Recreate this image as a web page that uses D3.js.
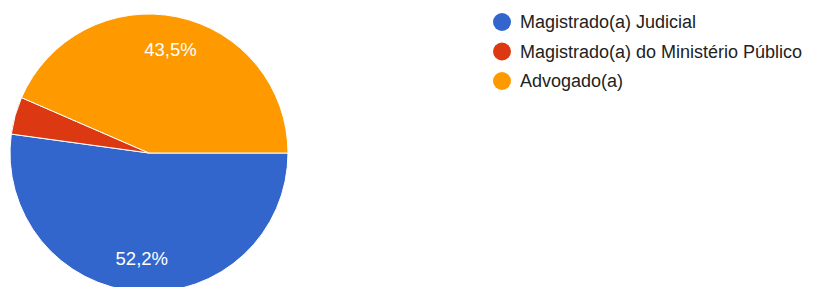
<!DOCTYPE html>
<html>
<head>
<meta charset="utf-8">
<script src="https://cdn.jsdelivr.net/npm/d3@7"></script>
<style>
  body { margin: 0; background: #fff; }
  svg { font-family: Arial, "Liberation Sans", sans-serif; }
</style>
</head>
<body>
<div id="chart"></div>
<script>
// data
var categories = ["Magistrado(a) Judicial", "Magistrado(a) do Ministério Público", "Advogado(a)"]
var counts = [12, 1, 10]
var labels = ["52,2%", "", "43,5%"]
var colors = ["#3366cc", "#dc3912", "#ff9900"]

var width = 814, height = 287
var cx = 149, cy = 153, radius = 139

var svg = d3.select("#chart").append("svg")
  .attr("width", width)
  .attr("height", height)

var g = svg.append("g")
  .attr("transform", "translate(" + cx + "," + cy + ")")

// pie starts at 3 o'clock, clockwise
var pie = d3.pie()
  .sort(null)
  .startAngle(Math.PI / 2)
  .endAngle(Math.PI / 2 + 2 * Math.PI)
  .value(function(d) { return d })

var arcGen = d3.arc().innerRadius(0).outerRadius(radius)
var labelArc = d3.arc().innerRadius(radius * 0.76).outerRadius(radius * 0.76)

var slices = pie(counts)

g.selectAll("path.slice")
  .data(slices)
  .enter()
  .append("path")
    .attr("class", "slice")
    .attr("d", arcGen)
    .attr("fill", function(d, i) { return colors[i] })
    .attr("stroke", "#fff")
    .attr("stroke-width", 1)

g.selectAll("text.lbl")
  .data(slices)
  .enter()
  .append("text")
    .attr("class", "lbl")
    .attr("transform", function(d) { return "translate(" + labelArc.centroid(d) + ")" })
    .attr("text-anchor", "middle")
    .attr("dy", "0.36em")
    .attr("fill", "#fff")
    .attr("font-size", "18.5px")
    .text(function(d, i) { return labels[i] })

// legend
var legend = svg.append("g").attr("transform", "translate(502,22)")
var items = legend.selectAll("g.item")
  .data(categories)
  .enter()
  .append("g")
    .attr("class", "item")
    .attr("transform", function(d, i) { return "translate(0," + (i * 29.5) + ")" })

items.append("circle")
  .attr("r", 9)
  .attr("fill", function(d, i) { return colors[i] })

items.append("text")
  .attr("x", 18)
  .attr("dy", "0.36em")
  .attr("font-size", "18px")
  .attr("fill", "#222")
  .text(function(d) { return d })
</script>
</body>
</html>
